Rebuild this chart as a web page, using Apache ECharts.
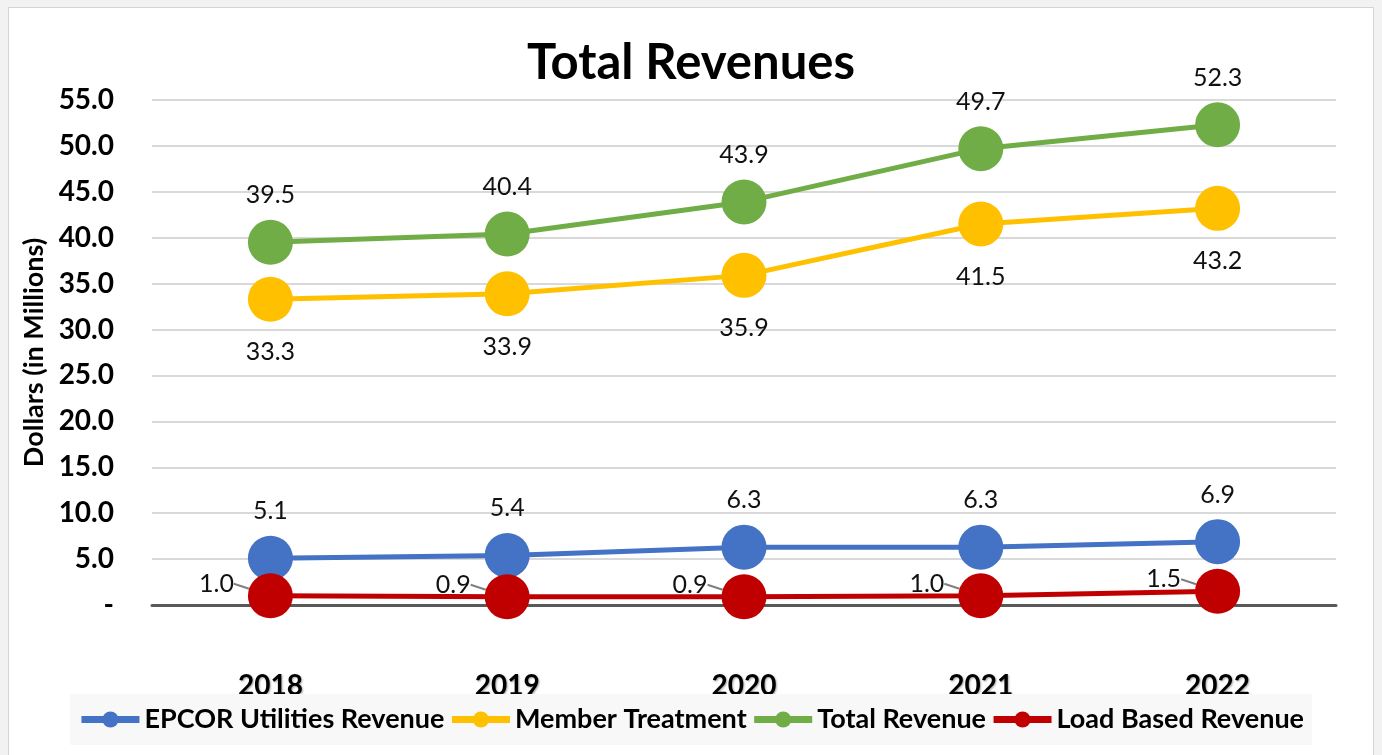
<!DOCTYPE html>
<html>
<head>
<meta charset="utf-8">
<script src="https://cdn.jsdelivr.net/npm/echarts@6/dist/echarts.min.js"></script>
<style>
  html, body { margin: 0; padding: 0; background: #f2f2f2; }
  #frame { position: absolute; left: 8px; top: 7px; width: 1364px; height: 760px; background: #fff; border: 1px solid #d4d4d4; }
  #chart { position: absolute; left: 0; top: 0; width: 1382px; height: 755px; }
</style>
</head>
<body>
<div id="frame"></div>
<div id="chart"></div>
<script>
  // data
  let years = ['2018', '2019', '2020', '2021', '2022'];
  let epcorRevenue = [5.1, 5.4, 6.3, 6.3, 6.9];
  let memberTreatment = [33.3, 33.9, 35.9, 41.5, 43.2];
  let totalRevenue = [39.5, 40.4, 43.9, 49.7, 52.3];
  let loadBasedRevenue = [1.0, 0.9, 0.9, 1.0, 1.5];

  let font = 'Lato, "Noto Sans", sans-serif';

  let labelStyle = {
    show: true,
    fontFamily: font,
    fontSize: 25,
    color: '#111',
    formatter: function (p) { return p.value.toFixed(1); }
  };

  let defaStyle = {
    type: 'line',
    symbol: 'circle',
    symbolSize: 45,
    emphasis: { disabled: true }
  };

  function makeSeries(name, data, color, label, extra) {
    return Object.assign({}, defaStyle, {
      name: name,
      data: data,
      itemStyle: { color: color },
      lineStyle: { width: 5, color: color },
      label: Object.assign({}, labelStyle, label)
    }, extra || {});
  }

  let chart = echarts.init(document.getElementById('chart'));

  let options = {
    backgroundColor: 'transparent',
    animation: false,
    title: {
      text: 'Total Revenues',
      left: 'center',
      top: 34,
      textStyle: { fontFamily: font, fontWeight: 'bold', fontSize: 49, color: '#000' }
    },
    legend: {
      bottom: 10,
      left: 'center',
      backgroundColor: '#f8f8f8',
      padding: [12, 8, 12, 8],
      itemWidth: 58,
      itemHeight: 20,
      itemGap: 4,
      lineStyle: { width: 7 },
      textStyle: { fontFamily: font, fontWeight: 'bold', fontSize: 27, color: '#000' },
      data: ['EPCOR Utilities Revenue', 'Member Treatment', 'Total Revenue', 'Load Based Revenue']
    },
    grid: { left: 152, right: 46, top: 100, bottom: 150 },
    xAxis: {
      type: 'category',
      data: years,
      boundaryGap: true,
      axisLine: { show: true, lineStyle: { color: '#595959', width: 3 } },
      axisTick: { show: false },
      axisLabel: {
        margin: 67,
        fontFamily: font,
        fontWeight: 'bold',
        fontSize: 28,
        color: '#000',
        textShadowColor: 'rgba(0,0,0,0.35)',
        textShadowBlur: 2,
        textShadowOffsetX: 1,
        textShadowOffsetY: 1
      }
    },
    yAxis: {
      type: 'value',
      min: 0,
      max: 55,
      interval: 5,
      name: 'Dollars (in Millions)',
      nameLocation: 'middle',
      nameGap: 104,
      nameTextStyle: { fontFamily: font, fontWeight: 'bold', fontSize: 27, color: '#000' },
      axisLine: { show: false },
      axisTick: { show: false },
      axisLabel: {
        margin: 38,
        fontFamily: font,
        fontWeight: 'bold',
        fontSize: 28,
        color: '#000',
        formatter: function (v) { return v === 0 ? '-' : v.toFixed(1); }
      },
      splitLine: { lineStyle: { color: '#d9d9d9', width: 2 } }
    },
    series: [
      makeSeries('EPCOR Utilities Revenue', epcorRevenue, '#4472c4', { position: 'top', distance: 12 }),
      makeSeries('Member Treatment', memberTreatment, '#ffc000', { position: 'bottom', distance: 18 }),
      makeSeries('Total Revenue', totalRevenue, '#70ad47', { position: 'top', distance: 12 }),
      makeSeries('Load Based Revenue', loadBasedRevenue, '#c00000', { position: 'left', distance: 0 }, {
        labelLayout: { dx: -14, dy: -12 },
        labelLine: { show: true, lineStyle: { color: '#7f7f7f', width: 2 } }
      })
    ]
  };

  chart.setOption(options);
</script>
</body>
</html>
